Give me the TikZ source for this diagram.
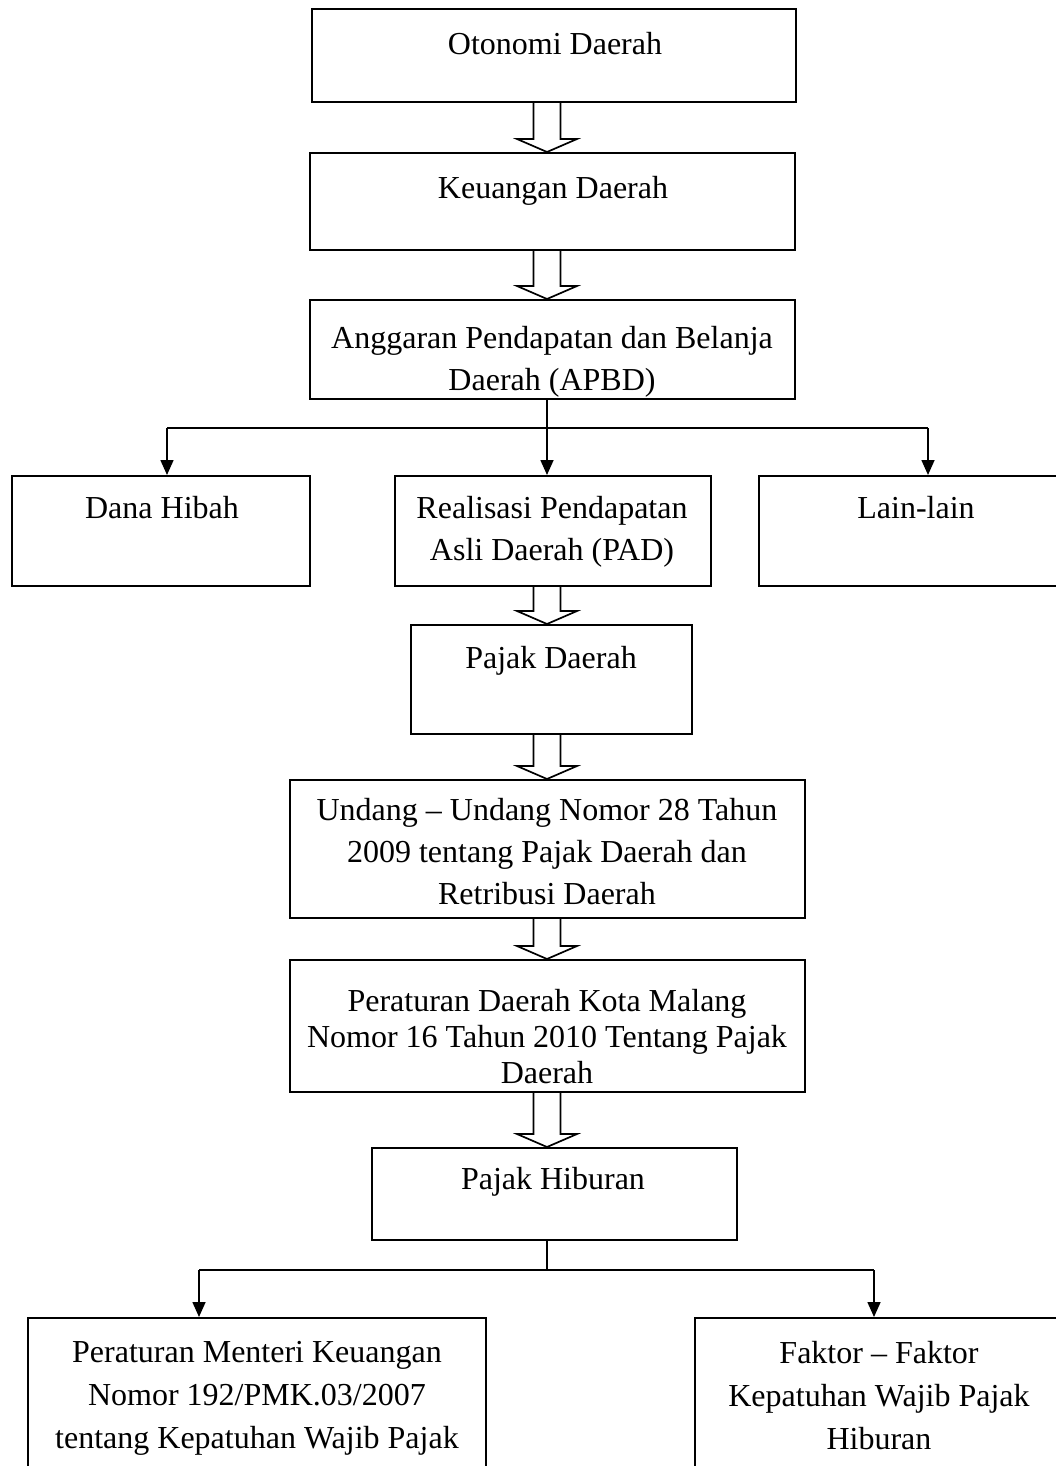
\documentclass[tikz,border=0pt]{standalone}
\usepackage{fontspec}
\setmainfont{Liberation Serif}
\usetikzlibrary{arrows.meta,calc}
\newcommand\hollowarr[2]{\draw[hol] let \p1=(#1.south -| spine), \p2=(#2.north -| spine) in
  (\x1-13.5pt,\y1) -- (\x1-13.5pt,\y2+13pt) -- (\x1-30pt,\y2+13pt) -- (\x1,\y2)
  -- (\x1+30pt,\y2+13pt) -- (\x1+13.5pt,\y2+13pt) -- (\x1+13.5pt,\y1);}
\begin{document}
\begin{tikzpicture}[x=1pt,y=-1pt,
  box/.style={draw, line width=2pt, rectangle, inner sep=0pt},
  txt/.style={font=\fontsize{32}{42}\selectfont, align=center, inner sep=0pt, anchor=base},
  mtxt/.style={txt, anchor=north},
  hol/.style={draw, line width=1.7pt, line join=miter},
  conn/.style={line width=1.6pt},
  arr/.style={line width=1.6pt, -{Triangle[length=15pt,width=13pt]}}]
\useasboundingbox (0,0) rectangle (1056,1466);
\clip (0,0) rectangle (1056,1466);
\fill[white] (0,0) rectangle (1056,1466);
\coordinate (spine) at (547,0);

% boxes
\node[box, minimum width=484pt, minimum height=93pt] (b1) at (554,55.5) {};
\node[box, minimum width=485pt, minimum height=97pt] (b2) at (552.5,201.5) {};
\node[box, minimum width=485pt, minimum height=99pt] (b3) at (552.5,349.5) {};
\node[box, minimum width=298pt, minimum height=110pt] (b4) at (161,531) {};
\node[box, minimum width=316pt, minimum height=110pt] (b5) at (553,531) {};
\node[box, minimum width=314pt, minimum height=110pt] (b6) at (916,531) {};
\node[box, minimum width=281pt, minimum height=109pt] (b7) at (551.5,679.5) {};
\node[box, minimum width=515pt, minimum height=138pt] (b8) at (547.5,849) {};
\node[box, minimum width=515pt, minimum height=132pt] (b9) at (547.5,1026) {};
\node[box, minimum width=365pt, minimum height=92pt] (b10) at (554.5,1194) {};
\node[box, minimum width=458pt, minimum height=182pt] (b11) at (257,1409) {};
\node[box, minimum width=368pt, minimum height=182pt] (b12) at (879,1409) {};

% texts
\node[txt] (t1) at (555,55) {Otonomi Daerah};
\node[txt] (t2) at (553,198) {Keuangan Daerah};
\node[mtxt] (t3) at (552,326) {Anggaran Pendapatan dan Belanja\\Daerah (APBD)};
\node[txt] (t4) at (162,518) {Dana Hibah};
\node[mtxt] (t5) at (552,496) {Realisasi Pendapatan\\Asli Daerah (PAD)};
\node[txt] (t6) at (916,518) {Lain-lain};
\node[txt] (t7) at (551,668) {Pajak Daerah};
\node[mtxt] (t8) at (547,798) {Undang – Undang Nomor 28 Tahun\\2009 tentang Pajak Daerah dan\\Retribusi Daerah};
\node[mtxt, font=\fontsize{32}{36}\selectfont] (t9) at (547,989) {Peraturan Daerah Kota Malang\\Nomor 16 Tahun 2010 Tentang Pajak\\Daerah};
\node[txt] (t10) at (553,1189) {Pajak Hiburan};
\node[mtxt, font=\fontsize{32}{43}\selectfont] (t11) at (257,1341) {Peraturan Menteri Keuangan\\Nomor 192/PMK.03/2007\\tentang Kepatuhan Wajib Pajak};
\node[mtxt, font=\fontsize{32}{43}\selectfont] (t12) at (879,1341) {Faktor – Faktor\\Kepatuhan Wajib Pajak\\Hiburan};

% hollow arrows
\hollowarr{b1}{b2}
\hollowarr{b2}{b3}
\hollowarr{b5}{b7}
\hollowarr{b7}{b8}
\hollowarr{b8}{b9}
\hollowarr{b9}{b10}

% branch from APBD
\coordinate (j1) at (547,428);
\coordinate (l1) at (167,428);
\coordinate (r1) at (928,428);
\draw[conn] (b3.south -| j1) -- (j1);
\draw[conn] (l1) -- (r1);
\draw[arr] (l1) -- (l1 |- b4.north);
\draw[arr] (j1) -- (j1 |- b5.north);
\draw[arr] (r1) -- (r1 |- b6.north);

% branch from Pajak Hiburan
\coordinate (j2) at (547,1270);
\coordinate (l2) at (199,1270);
\coordinate (r2) at (874,1270);
\draw[conn] (b10.south -| j2) -- (j2);
\draw[conn] (l2) -- (r2);
\draw[arr] (l2) -- (l2 |- b11.north);
\draw[arr] (r2) -- (r2 |- b12.north);
\end{tikzpicture}
\end{document}
